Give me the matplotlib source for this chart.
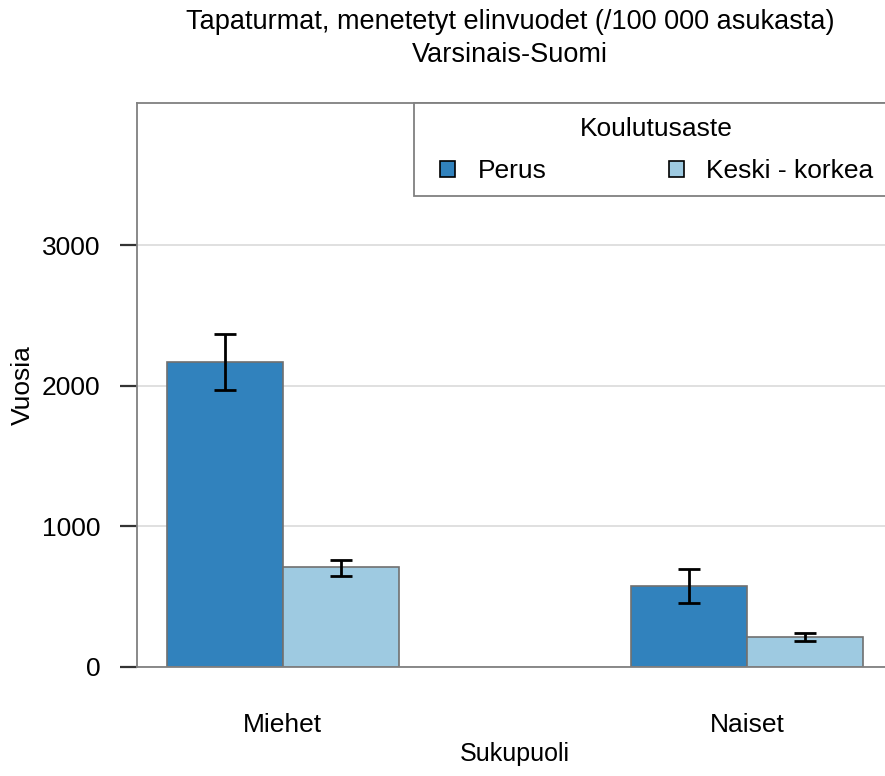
import matplotlib.pyplot as plt
import numpy as np
from matplotlib.patches import Rectangle

# data
groups = ["Miehet", "Naiset"]
levels = ["Perus", "Keski - korkea"]
colors = ["#3182BD", "#9ECAE1"]
values = [[2168, 576], [711, 213]]
err_low = [[1969, 455], [647, 185]]
err_high = [[2367, 697], [760, 242]]
yticks = [0, 1000, 2000, 3000]

plt.rcParams['font.family'] = ['Liberation Sans', 'DejaVu Sans']

def main():
    fig = plt.figure(figsize=(8.85, 7.76), dpi=100)
    ax = fig.add_axes([137 / 885, 109 / 776, (893 - 137) / 885, (667 - 103) / 776])

    x = np.arange(len(groups))
    width = 0.25
    for i, lev in enumerate(levels):
        pos = x + (i - 0.5) * width
        v = np.array(values[i])
        lo = v - np.array(err_low[i])
        hi = np.array(err_high[i]) - v
        ax.bar(pos, v, width, color=colors[i], edgecolor="#707070",
               linewidth=1.2, label=lev, zorder=2)
        ax.errorbar(pos, v, yerr=[lo, hi], fmt='none', ecolor='black',
                    elinewidth=2, capsize=8, capthick=2, zorder=3)

    ax.set_xlim(-0.314, 1.314)
    ax.set_ylim(0, 4010)
    ax.set_yticks(yticks)
    ax.set_yticklabels([str(t) for t in yticks], fontsize=19)
    ax.set_xticks(x)
    ax.set_xticklabels(groups, fontsize=19)
    ax.tick_params(axis='x', length=0, pad=33)
    ax.tick_params(axis='y', length=12.5, width=1.6, color='#333333', pad=14)
    ax.yaxis.grid(True, color='#DDDDDD', linewidth=1.3, zorder=0)
    ax.set_axisbelow(True)
    for s in ['left', 'bottom', 'top', 'right']:
        ax.spines[s].set_color('#808080')
        ax.spines[s].set_linewidth(1.3)

    ax.set_ylabel("Vuosia", fontsize=19, labelpad=5)
    ax.set_xlabel("Sukupuoli", fontsize=18, labelpad=4)

    fig.text(510 / 885, 1 - 22 / 776, "Tapaturmat, menetetyt elinvuodet (/100 000 asukasta)",
             ha='center', va='center', fontsize=19.5)
    fig.text(510 / 885, 1 - 55 / 776, "Varsinais-Suomi",
             ha='center', va='center', fontsize=19.5)

    # legend box: frame drawn separately so it can sit flush with the panel top
    ax.add_patch(Rectangle(((414 - 137) / 756, (667 - 196) / 564), 1.0, 93 / 564,
                           transform=ax.transAxes, facecolor='white',
                           edgecolor='#808080', linewidth=1.3, zorder=4,
                           clip_on=False))
    leg = ax.legend(ncol=2, title="Koulutusaste", fontsize=19, title_fontsize=19,
                    loc='upper left',
                    bbox_to_anchor=((440 - 137) / 756, (667 - 117) / 564),
                    borderaxespad=0, borderpad=0, frameon=False,
                    handlelength=0.57, handleheight=0.55,
                    columnspacing=4.64, handletextpad=0.85, labelspacing=0.68)
    leg.set_zorder(5)
    for h in leg.legend_handles:
        h.set_edgecolor('black')
        h.set_linewidth(1.2)

    fig.savefig("out.png", dpi=100)

if __name__ == "__main__":
    main()
